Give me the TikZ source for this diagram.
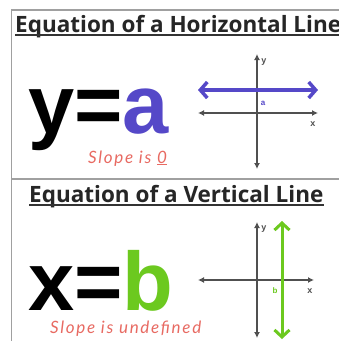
\documentclass[tikz,border=0pt]{standalone}
\usepackage{fontspec}
\setmainfont{Liberation Sans}
\newfontfamily\titlefont{Open Sans}
\newfontfamily\handfont[LetterSpace=10]{Lato}
\usetikzlibrary{arrows.meta}
\definecolor{hblue}{HTML}{5548C8}
\definecolor{vgreen}{HTML}{6CC91F}
\definecolor{slopered}{HTML}{E86A62}
\definecolor{frame}{HTML}{A0A0A0}
\definecolor{axis}{HTML}{505050}
\tikzset{
  titletext/.style={anchor=base west,inner sep=0pt,font=\titlefont\bfseries\fontsize{22.5}{26}\selectfont,text=black!85},
  bigeq/.style={anchor=base west,inner sep=0pt,text depth=0pt,font=\bfseries\fontsize{83}{90}\selectfont},
  slopetext/.style={anchor=base west,inner sep=0pt,text=slopered,font=\handfont\itshape\fontsize{17}{19}\selectfont},
  axisline/.style={draw=axis,line width=1.3pt,{Latex[length=6pt,width=6pt]}-{Latex[length=6pt,width=6pt]}},
  axislabel/.style={inner sep=0pt,font=\bfseries\fontsize{9}{10}\selectfont,text=axis},
  frameline/.style={draw=frame,line width=1.5pt},
}
\begin{document}
\begin{tikzpicture}[x=1pt,y=-1pt]
\useasboundingbox (0,0) rectangle (339,341);
\clip (0,0) rectangle (339,341);
\fill[white] (0,0) rectangle (339,341);
% frame
\coordinate (fTL) at (11.5,10);
\coordinate (fTR) at (339,10);
\coordinate (fBL) at (11.5,341);
\coordinate (dL) at (11.5,179);
\coordinate (dR) at (339,179);
\draw[frameline] (fTR) -- (fTL) -- (fBL);
\draw[frameline] (dL) -- (dR);
% titles
\node[titletext] (t1) at (15,32) {Equation of a Horizontal Line};
\draw[line width=1.2pt,black!80] ([yshift=-3pt]t1.base west) -- ([yshift=-3pt]t1.base east);
\node[titletext] (t2) at (29,202) {Equation of a Vertical Line};
\draw[line width=1.2pt,black!80] ([yshift=-3pt]t2.base west) -- ([yshift=-3pt]t2.base east);
% equations
\node[bigeq] (e1) at (28,133) {y=\textcolor{hblue}{a}};
\node[slopetext] (s1) at (88,163) {Slope is \underline{0}};
\node[bigeq] (e2) at (28,310) {x=\textcolor{vgreen}{b}};
\node[slopetext] (s2) at (50,333) {Slope is undefined};
% horizontal graph
\coordinate (h1t) at (257,54);
\coordinate (h1b) at (257,169);
\coordinate (h1l) at (198,113);
\coordinate (h1r) at (318,113);
\draw[axisline] (h1t) -- (h1b);
\draw[axisline] (h1l) -- (h1r);
\node[axislabel] (hy) at (264,62) {y};
\node[axislabel] (hx) at (313,124) {x};
\coordinate (hbl) at (198,90);
\coordinate (hbr) at (318,90);
\draw[hblue,line width=3.5pt,{Straight Barb[length=7pt,width=16pt]}-{Straight Barb[length=7pt,width=16pt]}] (hbl) -- (hbr);
\node[inner sep=0pt,text=hblue,font=\bfseries\fontsize{8}{9}\selectfont] (ha) at (263,103) {a};
% vertical graph
\coordinate (v1t) at (257,222);
\coordinate (v1b) at (257,338);
\coordinate (v1l) at (198,280);
\coordinate (v1r) at (314,280);
\draw[axisline] (v1t) -- (v1b);
\draw[axisline] (v1l) -- (v1r);
\node[axislabel] (vy) at (264,229) {y};
\node[axislabel] (vx) at (310,291) {x};
\coordinate (vgt) at (282,221);
\coordinate (vgb) at (282,339);
\draw[vgreen,line width=3pt,{Straight Barb[length=7pt,width=15pt]}-{Straight Barb[length=7pt,width=15pt]}] (vgt) -- (vgb);
\node[inner sep=0pt,text=vgreen,font=\bfseries\fontsize{8}{9}\selectfont] (vb) at (275,291) {b};
\end{tikzpicture}
\end{document}
